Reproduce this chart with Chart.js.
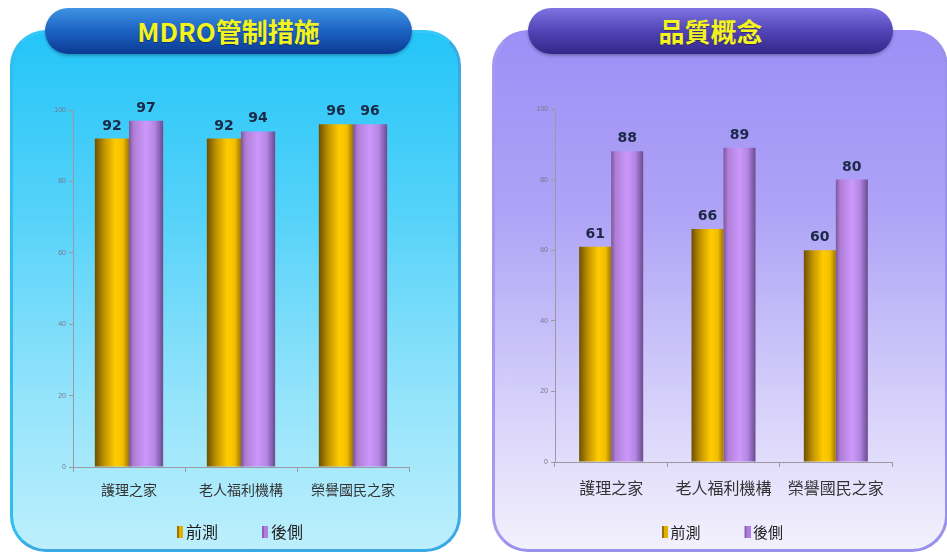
<!DOCTYPE html>
<html>
<head>
<meta charset="utf-8">
<script src="https://cdn.jsdelivr.net/npm/chart.js@4/dist/chart.umd.min.js"></script>
<style>
  html, body { margin: 0; padding: 0; width: 947px; height: 554px; overflow: hidden; background: #ffffff; }
  .panel { position: absolute; top: 30px; height: 522px; border-radius: 36px; box-sizing: border-box; }
  #panel1 { left: 10px; width: 451px;
    background: linear-gradient(to bottom, #24c5f8 0%, #55d2f9 35%, #93e3fb 70%, #bdeffc 100%);
    border: 3px solid #3aa9e6; border-top-color: #36c8f8; border-left-color: #30bdf0; }
  #panel2 { left: 492px; width: 456px;
    background: linear-gradient(to bottom, #9d8ff6 0%, #aea3f6 35%, #d4cefa 70%, #f3f1fd 100%);
    border: 3px solid #9a92ea; border-top-color: #9d8ff6; border-left-color: #a49af2; }
  .pill { position: absolute; top: 8px; height: 46px; border-radius: 24px; text-align: center;
    line-height: 46px; color: #f3f31e; font-family: "Noto Sans CJK TC", sans-serif; font-weight: bold;
    font-size: 26px; box-shadow: 0 2px 3px rgba(0,0,0,0.25); text-shadow: 0 1px 1px rgba(0,0,0,0.35); }
  #title1 { left: 45px; width: 367px; background: linear-gradient(to bottom, #3e93e4 0%, #1d62c2 50%, #0a3a94 100%); }
  #title2 { left: 528px; width: 365px; background: linear-gradient(to bottom, #7e74e2 0%, #5244b6 50%, #33278a 100%); }
  canvas { position: absolute; }
  #chart1 { left: 10px; top: 30px; }
  #chart2 { left: 492px; top: 30px; }
</style>
</head>
<body>
<div class="panel" id="panel1"></div>
<div class="panel" id="panel2"></div>
<div class="pill" id="title1">MDRO管制措施</div>
<div class="pill" id="title2">品質概念</div>
<canvas id="chart1" width="452" height="522"></canvas>
<canvas id="chart2" width="453" height="522"></canvas>
<script>
const categories = ['護理之家', '老人福利機構', '榮譽國民之家'];
const seriesNames = ['前測', '後側'];
const mdroPre = [92, 92, 96];
const mdroPost = [97, 94, 96];
const qualityPre = [61, 66, 60];
const qualityPost = [88, 89, 80];
const yTicks = [0, 20, 40, 60, 80, 100];
const legendColors = ['#e4b000', '#b07ee0'];
const legendEdges = ['#9a7400', '#8a60b8'];

// Horizontal shading so each bar reads as a cylinder.
const goldStops = [[0, '#6c5000'], [0.28, '#c39400'], [0.6, '#ffcb00'], [0.82, '#f2bf00'], [1, '#9c7600']];
const violetStops = [[0, '#7d5698'], [0.14, '#b07ed8'], [0.5, '#cc98fa'], [0.75, '#b486e4'], [1, '#6c4a8e']];

function cylinder(stops, flat, catPct) {
  return function (ctx) {
    if (ctx.type !== 'data') return flat;
    const chart = ctx.chart;
    const xs = chart.scales.x;
    if (!xs || !chart.chartArea || !isFinite(xs.width) || xs.width <= 0) return flat;
    const n = chart.data.datasets.length;
    const catW = xs.width / chart.data.labels.length;
    const barW = catW * catPct / n;
    const center = xs.getPixelForValue(ctx.dataIndex);
    const left = center - barW * n / 2 + ctx.datasetIndex * barW;
    if (!isFinite(left)) return flat;
    const g = chart.ctx.createLinearGradient(left, 0, left + barW, 0);
    stops.forEach(s => g.addColorStop(s[0], s[1]));
    return g;
  };
}

// Legend swatch: a slim bar with empty space before it, which sets the gap between entries.
const swatchStyleWidth = 37;
function swatch(i) {
  const c = document.createElement('canvas');
  c.width = 47; c.height = 12;
  const g = c.getContext('2d');
  g.fillStyle = legendColors[i];
  g.fillRect(41, 0, 6, 12);
  g.fillStyle = legendEdges[i];
  g.fillRect(41, 0, 2, 12);
  return c;
}
const swatches = [swatch(0), swatch(1)];

const valueLabels = {
  id: 'valueLabels',
  afterDatasetsDraw(chart) {
    const c = chart.ctx;
    c.save();
    c.font = 'bold 14px "DejaVu Sans", Verdana, sans-serif';
    c.fillStyle = '#1b2946';
    c.textAlign = 'center';
    c.textBaseline = 'alphabetic';
    chart.data.datasets.forEach((ds, i) => {
      chart.getDatasetMeta(i).data.forEach((el, j) => {
        c.fillText(String(ds.data[j]), el.x, el.y - 9);
      });
    });
    c.restore();
  }
};

function makeChart(id, pre, post, catPct, opts) {
  return new Chart(document.getElementById(id), {
    type: 'bar',
    data: {
      labels: categories,
      datasets: [
        { label: seriesNames[0], data: pre, backgroundColor: cylinder(goldStops, legendColors[0], catPct), borderWidth: 0 },
        { label: seriesNames[1], data: post, backgroundColor: cylinder(violetStops, legendColors[1], catPct), borderWidth: 0 }
      ]
    },
    options: {
      responsive: false,
      animation: false,
      devicePixelRatio: 1,
      categoryPercentage: catPct,
      barPercentage: 1,
      layout: { padding: { top: opts.top, right: 0, left: -28, bottom: opts.bottom } },
      plugins: {
        tooltip: { enabled: false },
        legend: {
          position: 'bottom',
          labels: {
            usePointStyle: true, pointStyleWidth: swatchStyleWidth, boxHeight: 12, padding: 8,
            color: '#1e1e1e',
            font: { family: '"Noto Sans CJK TC", sans-serif', size: opts.legendSize },
            generateLabels: chart => chart.data.datasets.map((ds, i) => ({
              text: ds.label, fillStyle: legendColors[i], strokeStyle: legendColors[i],
              pointStyle: swatches[i], lineWidth: 0, hidden: false, datasetIndex: i, fontColor: '#1e1e1e'
            }))
          }
        }
      },
      scales: {
        x: {
          afterFit: s => { s.height = opts.xHeight; },
          grid: { display: true, drawOnChartArea: false, offset: true, tickLength: 5, color: '#9a9aa0' },
          border: { color: '#9a9aa0' },
          ticks: { color: '#333333', padding: opts.labelPad, font: { family: '"Noto Sans CJK TC", sans-serif', size: opts.labelSize } }
        },
        y: {
          min: 0, max: 100,
          afterBuildTicks: s => { s.ticks = yTicks.map(v => ({ value: v })); },
          afterFit: s => { s.width = 91; },
          grid: { drawOnChartArea: false, tickLength: 4, color: '#9a9aa0' },
          border: { color: '#9a9aa0' },
          ticks: { color: '#77778a', padding: 3, font: { family: '"Liberation Sans", sans-serif', size: 7 } }
        },
        // empty right-hand gutter inside the panel
        gutter: {
          type: 'linear', position: 'right', min: 0, max: 100,
          afterFit: s => { s.width = opts.right; },
          grid: { display: false }, border: { display: false }, ticks: { display: false }
        }
      }
    },
    plugins: [valueLabels]
  });
}

makeChart('chart1', mdroPre, mdroPost, 0.61, { top: 80, right: 53, bottom: 2, xHeight: 49, labelPad: 9, labelSize: 14, legendSize: 16 });
makeChart('chart2', qualityPre, qualityPost, 0.57, { top: 79, right: 53, bottom: 2.5, xHeight: 54.5, labelPad: 11, labelSize: 16, legendSize: 15 });
</script>
</body>
</html>
